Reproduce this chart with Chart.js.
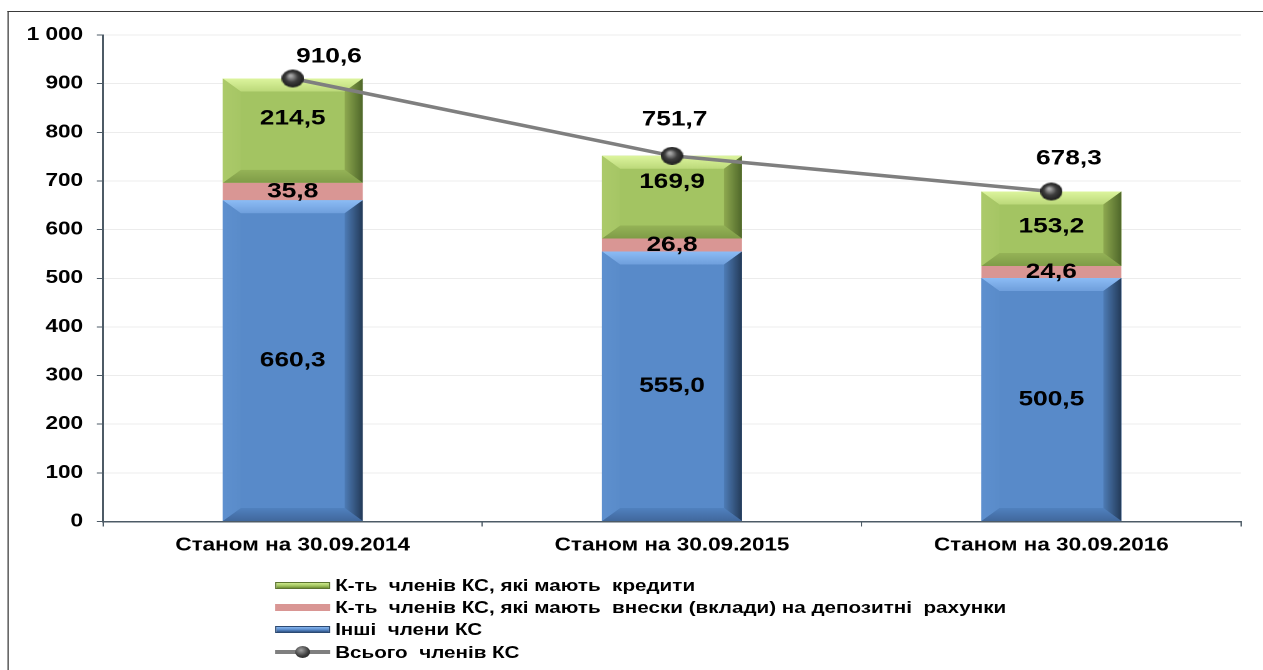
<!DOCTYPE html>
<html lang="uk">
<head>
<meta charset="utf-8">
<title>Члени КС</title>
<script src="https://cdn.jsdelivr.net/npm/chart.js@4.4.1/dist/chart.umd.min.js"></script>
<style>
  html, body { margin: 0; padding: 0; background: #fff; overflow: hidden; }
  /* the original picture is stretched sideways, so the whole sheet is too */
  #sheet {
    position: absolute; left: 0; top: 0;
    width: 1010px; height: 670px;
    transform: scaleX(1.2505); transform-origin: 0 0;
  }
  #frame {
    position: absolute; left: 6px; top: 11px; width: 1200px; height: 800px;
    border-left: 1.5px solid #3a3a3a; border-top: 1.5px solid #3a3a3a;
  }
  #chart { position: absolute; left: 0; top: 0; }
  #legend {
    position: absolute; left: 220px; top: 574px;
    font-family: "Liberation Sans", Arial, sans-serif; font-weight: bold; font-size: 16.5px; color: #000;
  }
  .row { height: 22.4px; display: flex; align-items: center; white-space: pre; }
  .mark { width: 44px; height: 7px; margin-right: 4px; position: relative; box-sizing: border-box; }
  .m-green { background: linear-gradient(#cde98c, #9fc15c 60%, #6f8c37); border: 1px solid #5d7530; }
  .m-pink { background: #d99694; }
  .m-blue { background: linear-gradient(#86b6f0, #5a8bca 55%, #2f5284); border: 1px solid #2c4a72; }
  .m-line { height: 4px; background: #7f7f7f; }
  .m-line::after {
    content: ""; position: absolute; left: 16px; top: -4px; width: 12px; height: 12px; border-radius: 50%;
    background: radial-gradient(circle at 40% 35%, #a0a0a0, #3c3c3c 55%, #1e1e1e);
  }
</style>
</head>
<body>
<div id="sheet">
  <div id="frame"></div>
  <canvas id="chart" width="1010" height="670"></canvas>
  <div id="legend">
    <div class="row"><div class="mark m-green"></div>К-ть  членів КС, які мають  кредити</div>
    <div class="row"><div class="mark m-pink"></div>К-ть  членів КС, які мають  внески (вклади) на депозитні  рахунки</div>
    <div class="row"><div class="mark m-blue"></div>Інші  члени КС</div>
    <div class="row"><div class="mark m-line"></div>Всього  членів КС</div>
  </div>
</div>
<script>
// Дані (тис. осіб)
const categories = ['Станом на 30.09.2014', 'Станом на 30.09.2015', 'Станом на 30.09.2016'];
const otherMembers = [660.3, 555.0, 500.5];
const depositMembers = [35.8, 26.8, 24.6];
const creditMembers = [214.5, 169.9, 153.2];
const totalMembers = [910.6, 751.7, 678.3];
const seriesNames = [
    'Інші члени КС',
    'К-ть членів КС, які мають внески (вклади) на депозитні рахунки',
    'К-ть членів КС, які мають кредити',
    'Всього членів КС'
];

const FONT = '"Liberation Sans", Arial, sans-serif';
const fmt = v => v.toFixed(1).replace('.', ',');

// shaded ball used as the line marker
function makeBall(d) {
    const c = document.createElement('canvas');
    c.width = d; c.height = d;
    const g = c.getContext('2d');
    const grad = g.createRadialGradient(d * 0.4, d * 0.35, 1, d / 2, d / 2, d / 2);
    grad.addColorStop(0, '#a8a8a8');
    grad.addColorStop(0.5, '#3e3e3e');
    grad.addColorStop(1, '#1c1c1c');
    g.fillStyle = grad;
    g.beginPath();
    g.arc(d / 2, d / 2, d / 2, 0, Math.PI * 2);
    g.fill();
    return c;
}

// Excel-like bevel drawn on top of each bar element
const bevelPlugin = {
    id: 'bevel',
    afterDatasetDraw(chart, args) {
        const ds = chart.data.datasets[args.index];
        if (!ds.bevel) return;
        const ctx = chart.ctx;
        const b = ds.bevel;
        args.meta.data.forEach(el => {
            const p = el.getProps(['x', 'y', 'base', 'width'], true);
            const L = p.x - p.width / 2, R = p.x + p.width / 2;
            const T = Math.min(p.y, p.base), B = Math.max(p.y, p.base);
            const dx = 14.4, dy = Math.min(13, (B - T) / 2);
            const poly = (pts, fill) => {
                ctx.beginPath();
                ctx.moveTo(pts[0][0], pts[0][1]);
                pts.slice(1).forEach(q => ctx.lineTo(q[0], q[1]));
                ctx.closePath();
                ctx.fillStyle = fill;
                ctx.fill();
            };
            ctx.save();
            let g = ctx.createLinearGradient(0, T, 0, T + dy);
            g.addColorStop(0, b.top[0]); g.addColorStop(1, b.top[1]);
            poly([[L, T], [R, T], [R - dx, T + dy], [L + dx, T + dy]], g);
            g = ctx.createLinearGradient(0, B - dy, 0, B);
            g.addColorStop(0, b.bottom[0]); g.addColorStop(1, b.bottom[1]);
            poly([[L, B], [R, B], [R - dx, B - dy], [L + dx, B - dy]], g);
            g = ctx.createLinearGradient(L, 0, L + dx, 0);
            g.addColorStop(0, b.left[0]); g.addColorStop(1, b.left[1]);
            poly([[L, T], [L + dx, T + dy], [L + dx, B - dy], [L, B]], g);
            g = ctx.createLinearGradient(R - dx, 0, R, 0);
            g.addColorStop(0, b.right[0]); g.addColorStop(1, b.right[1]);
            poly([[R, T], [R - dx, T + dy], [R - dx, B - dy], [R, B]], g);
            ctx.restore();
        });
    }
};

// value labels
const labelPlugin = {
    id: 'valueLabels',
    afterDatasetsDraw(chart) {
        const ctx = chart.ctx;
        ctx.save();
        ctx.font = 'bold 21px ' + FONT;
        ctx.fillStyle = '#000';
        ctx.textAlign = 'center';
        ctx.textBaseline = 'middle';
        chart.data.datasets.forEach((ds, i) => {
            const meta = chart.getDatasetMeta(i);
            meta.data.forEach((el, j) => {
                const v = ds.data[j];
                if (ds.type === 'line') {
                    const sx = [29, 2, 14][j], sy = [-22, -36, -33][j];
                    ctx.fillText(fmt(v), el.x + sx, el.y + sy);
                } else {
                    const p = el.getProps(['x', 'y', 'base'], true);
                    const shift = ds.labelShift ? ds.labelShift[j] : 0;
                    ctx.fillText(fmt(v), p.x, (p.y + p.base) / 2 + shift);
                }
            });
        });
        ctx.restore();
    }
};

const barCommon = { type: 'bar', stack: 'bars', borderWidth: 0, barPercentage: 0.369, categoryPercentage: 1, order: 1 };

new Chart(document.getElementById('chart'), {
    data: {
        labels: categories,
        datasets: [
            Object.assign({}, barCommon, {
                label: seriesNames[0], data: otherMembers, backgroundColor: '#588ac9',
                bevel: { top: ['#8cbcf5', '#6f9fdc'], bottom: ['#5081bf', '#41689d'], left: ['#5e90cf', '#5a8cca'], right: ['#4e7cb6', '#233a58'] }
            }),
            Object.assign({}, barCommon, {
                label: seriesNames[1], data: depositMembers, backgroundColor: '#d99694'
            }),
            Object.assign({}, barCommon, {
                label: seriesNames[2], data: creditMembers, backgroundColor: '#a3c462',
                labelShift: [-12, -15, -2],
                bevel: { top: ['#ddf59e', '#bcd97a'], bottom: ['#95b357', '#7f9c47'], left: ['#acca6a', '#a6c665'], right: ['#8ea950', '#4f672a'] }
            }),
            {
                type: 'line', label: seriesNames[3], data: totalMembers, stack: 'total', order: -1,
                borderColor: '#7f7f7f', borderWidth: 3.5, tension: 0,
                pointStyle: makeBall(18), pointRadius: 9, pointHoverRadius: 9
            }
        ]
    },
    options: {
        responsive: false,
        devicePixelRatio: 2,
        animation: false,
        layout: { padding: { top: 35, right: 17.6, bottom: 108.5, left: 0 } },
        plugins: { legend: { display: false }, tooltip: { enabled: false } },
        scales: {
            x: {
                stacked: true,
                grid: { drawOnChartArea: false, drawTicks: true, tickLength: 5, tickColor: '#4d5b66', offset: true },
                border: { color: '#4d5b66', width: 1.5 },
                ticks: { color: '#000', font: { family: FONT, weight: 'bold', size: 18 }, padding: 8 },
                afterFit(scale) { scale.height = 40; }
            },
            y: {
                stacked: true,
                min: 0, max: 1000,
                grid: { color: '#ececec', lineWidth: 1, tickLength: 5, tickColor: '#4d5b66' },
                border: { color: '#4d5b66', width: 1.5 },
                ticks: {
                    stepSize: 100, color: '#000', padding: 11,
                    font: { family: FONT, weight: 'bold', size: 18 },
                    callback: v => v >= 1000 ? String(v).replace(/\B(?=(\d{3})+(?!\d))/g, ' ') : String(v)
                },
                afterFit(scale) { scale.width = 82.4; }
            }
        }
    },
    plugins: [bevelPlugin, labelPlugin]
});
</script>
</body>
</html>
